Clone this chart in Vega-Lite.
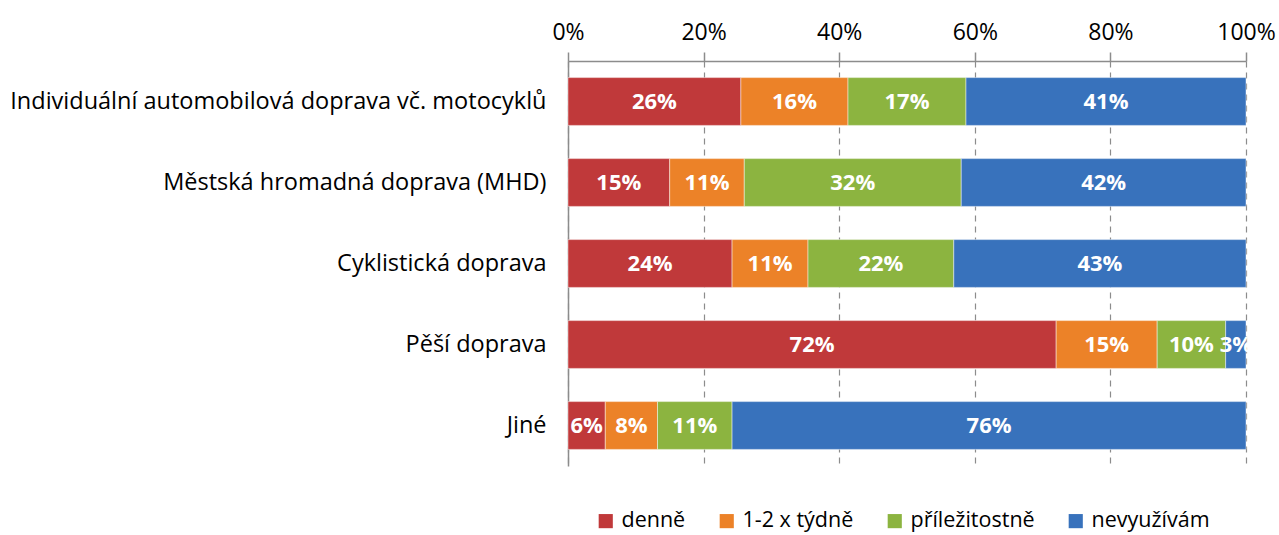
{
  "$schema": "https://vega.github.io/schema/vega-lite/v6.json",
  "autosize": {"type": "none"},
  "padding": {"left": 568, "top": 61, "right": 33, "bottom": 69},
  "width": 678,
  "height": 405,
  "background": "white",
  "config": {
    "view": {"stroke": null},
    "font": "Open Sans"
  },
  "data": {
    "values": [
      {"r": "Individuální automobilová doprava vč. motocyklů", "s": "denně", "k": 1, "v": 25.5, "t": "26%"},
      {"r": "Individuální automobilová doprava vč. motocyklů", "s": "1-2 x týdně", "k": 2, "v": 15.8, "t": "16%"},
      {"r": "Individuální automobilová doprava vč. motocyklů", "s": "příležitostně", "k": 3, "v": 17.4, "t": "17%"},
      {"r": "Individuální automobilová doprava vč. motocyklů", "s": "nevyužívám", "k": 4, "v": 41.3, "t": "41%"},
      {"r": "Městská hromadná doprava (MHD)", "s": "denně", "k": 1, "v": 15, "t": "15%"},
      {"r": "Městská hromadná doprava (MHD)", "s": "1-2 x týdně", "k": 2, "v": 11, "t": "11%"},
      {"r": "Městská hromadná doprava (MHD)", "s": "příležitostně", "k": 3, "v": 32, "t": "32%"},
      {"r": "Městská hromadná doprava (MHD)", "s": "nevyužívám", "k": 4, "v": 42, "t": "42%"},
      {"r": "Cyklistická doprava", "s": "denně", "k": 1, "v": 24.2, "t": "24%"},
      {"r": "Cyklistická doprava", "s": "1-2 x týdně", "k": 2, "v": 11.2, "t": "11%"},
      {"r": "Cyklistická doprava", "s": "příležitostně", "k": 3, "v": 21.5, "t": "22%"},
      {"r": "Cyklistická doprava", "s": "nevyužívám", "k": 4, "v": 43.1, "t": "43%"},
      {"r": "Pěší doprava", "s": "denně", "k": 1, "v": 72, "t": "72%"},
      {"r": "Pěší doprava", "s": "1-2 x týdně", "k": 2, "v": 14.9, "t": "15%"},
      {"r": "Pěší doprava", "s": "příležitostně", "k": 3, "v": 10.1, "t": "10%"},
      {"r": "Pěší doprava", "s": "nevyužívám", "k": 4, "v": 3, "t": "3%"},
      {"r": "Jiné", "s": "denně", "k": 1, "v": 5.5, "t": "6%"},
      {"r": "Jiné", "s": "1-2 x týdně", "k": 2, "v": 7.7, "t": "8%"},
      {"r": "Jiné", "s": "příležitostně", "k": 3, "v": 11, "t": "11%"},
      {"r": "Jiné", "s": "nevyužívám", "k": 4, "v": 75.8, "t": "76%"}
    ]
  },
  "encoding": {
    "y": {
      "field": "r",
      "type": "nominal",
      "sort": null,
      "scale": {"paddingInner": 0.41, "paddingOuter": 0.205},
      "axis": {
        "title": null,
        "ticks": false,
        "domainColor": "#8c8c8c",
        "domainWidth": 1.5,
        "labelFontSize": 23.5,
        "labelColor": "#000000",
        "labelPadding": 22,
        "labelLimit": 600
      }
    }
  },
  "layer": [
    {
      "mark": {"type": "bar", "stroke": "white", "strokeOpacity": 0.45, "strokeWidth": 1},
      "encoding": {
        "x": {
          "field": "v",
          "type": "quantitative",
          "stack": "zero",
          "scale": {"domain": [0, 100], "nice": false},
          "axis": {
            "orient": "top",
            "title": null,
            "values": [0, 20, 40, 60, 80, 100],
            "labelExpr": "datum.value + '%'",
            "labelFontSize": 23,
            "labelFlush": false,
            "labelOverlap": false,
            "labelColor": "#000000",
            "labelBaseline": "alphabetic",
            "labelPadding": 13,
            "tickSize": 9,
            "tickColor": "#8c8c8c",
            "tickWidth": 1.5,
            "domainColor": "#8c8c8c",
            "domainWidth": 1.5,
            "grid": true,
            "gridColor": "#8c8c8c",
            "gridWidth": 1.2,
            "gridDash": [6, 5]
          }
        },
        "color": {
          "field": "s",
          "type": "nominal",
          "scale": {
            "domain": ["denně", "1-2 x týdně", "příležitostně", "nevyužívám"],
            "range": ["#c0393a", "#ec8228", "#8cb440", "#3872bc"]
          },
          "legend": {
            "title": null,
            "orient": "none",
            "direction": "horizontal",
            "legendX": 27,
            "legendY": 449,
            "symbolType": "square",
            "symbolSize": 200,
            "symbolStrokeWidth": 0,
            "labelFontSize": 21.5,
            "labelColor": "#000000",
            "labelOffset": 5,
            "columnPadding": 30
          }
        },
        "order": {"field": "k"}
      }
    },
    {
      "mark": {"type": "text", "color": "white", "fontWeight": "bold", "fontSize": 22, "baseline": "middle"},
      "encoding": {
        "x": {"field": "v", "type": "quantitative", "stack": "zero", "bandPosition": 0.5},
        "detail": {"field": "s"},
        "order": {"field": "k"},
        "text": {"field": "t"}
      }
    }
  ]
}
